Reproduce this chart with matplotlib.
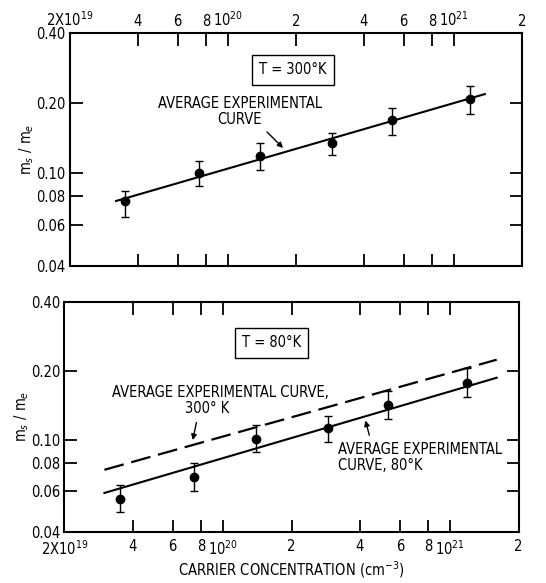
import matplotlib
matplotlib.use("Agg")
import matplotlib.pyplot as plt
import numpy as np

plt.rcParams['font.family'] = ['DejaVu Sans']
plt.rcParams['font.stretch'] = 'condensed'
plt.rcParams['mathtext.fontset'] = 'custom'
plt.rcParams['mathtext.rm'] = 'DejaVu Sans:stretch=condensed'

# carrier concentration of samples (cm^-3)
conc = [3.5e19, 7.45e19, 1.39e20, 2.89e20, 5.32e20, 1.18e21]

# T = 300 K
m300 = [0.076, 0.100, 0.119, 0.135, 0.169, 0.208]
m300_lo = [0.065, 0.088, 0.103, 0.120, 0.146, 0.180]
m300_hi = [0.084, 0.113, 0.135, 0.149, 0.191, 0.237]
fit300_x = [3.2e19, 1.37e21]
fit300_y = [0.076, 0.219]

# T = 80 K
m80 = [0.0556, 0.0694, 0.1015, 0.113, 0.1426, 0.178]
m80_lo = [0.0489, 0.0603, 0.089, 0.0985, 0.124, 0.1545]
m80_hi = [0.064, 0.0798, 0.1168, 0.1277, 0.164, 0.206]
fit80_x = [3.0e19, 1.6e21]
fit80_y = [0.0591, 0.187]
dash300_x = [3.0e19, 1.6e21]
dash300_y = [0.0745, 0.224]

xticks = [2e19, 4e19, 6e19, 8e19, 1e20, 2e20, 4e20, 6e20, 8e20, 1e21, 2e21]
xlabels = ["2X10$^{19}$", "4", "6", "8", "10$^{20}$", "2", "4", "6", "8", "10$^{21}$", "2"]
yticks = [0.04, 0.06, 0.08, 0.10, 0.20, 0.40]
ylabels = ["0.04", "0.06", "0.08", "0.10", "0.20", "0.40"]

fig = plt.figure(figsize=(5.46, 5.83), dpi=100)
ax1 = fig.add_axes([0.128, 0.544, 0.828, 0.399])
ax2 = fig.add_axes([0.118, 0.0875, 0.832, 0.395])


def setup(ax, top_labels):
    ax.set_xscale('log')
    ax.set_yscale('log')
    ax.set_xlim(2e19, 2e21)
    ax.set_ylim(0.04, 0.40)
    ax.set_xticks(xticks)
    ax.set_xticklabels(xlabels)
    ax.set_yticks(yticks)
    ax.set_yticklabels(ylabels)
    ax.minorticks_off()
    ax.tick_params(which='major', direction='in', length=9, width=1.3,
                   top=True, bottom=True, left=True, right=True,
                   labeltop=top_labels, labelbottom=not top_labels,
                   labelsize=10.5, pad=3)
    if not top_labels:
        ax.tick_params(axis='x', pad=5)
    for s in ax.spines.values():
        s.set_linewidth(1.5)
    ax.set_ylabel("m$_{s}$ / m$_{e}$", fontsize=10.5, labelpad=0)


setup(ax1, True)
setup(ax2, False)

# top panel
ax1.plot(fit300_x, fit300_y, color='black', lw=1.5)
ax1.errorbar(conc, m300,
             yerr=[np.array(m300) - np.array(m300_lo), np.array(m300_hi) - np.array(m300)],
             fmt='o', color='black', ms=6, capsize=3, elinewidth=1, capthick=1)
ax1.text(1.94e20, 0.278, "T = 300°K", fontsize=10.5, ha='center', va='center',
         bbox=dict(boxstyle='square,pad=0.5', fc='white', ec='black', lw=1))
ax1.text(1.13e20, 0.199, "AVERAGE EXPERIMENTAL", fontsize=10.5, ha='center', va='center')
ax1.text(1.13e20, 0.171, "CURVE", fontsize=10.5, ha='center', va='center')
ax1.annotate("", xy=(1.79e20, 0.126), xytext=(1.46e20, 0.1535),
             arrowprops=dict(arrowstyle='-|>', color='black', lw=1, mutation_scale=8))

# bottom panel
ax2.plot(fit80_x, fit80_y, color='black', lw=1.5)
ax2.plot(dash300_x, dash300_y, color='black', lw=1.6, dashes=(9, 3.5))
ax2.errorbar(conc, m80,
             yerr=[np.array(m80) - np.array(m80_lo), np.array(m80_hi) - np.array(m80)],
             fmt='o', color='black', ms=6, capsize=3, elinewidth=1, capthick=1)
ax2.text(1.63e20, 0.265, "T = 80°K", fontsize=10.5, ha='center', va='center',
         bbox=dict(boxstyle='square,pad=0.5', fc='white', ec='black', lw=1))
ax2.text(9.7e19, 0.161, "AVERAGE EXPERIMENTAL CURVE,", fontsize=10.5, ha='center', va='center')
ax2.text(8.5e19, 0.137, "300° K", fontsize=10.5, ha='center', va='center')
ax2.annotate("", xy=(7.3e19, 0.0976), xytext=(7.67e19, 0.1228),
             arrowprops=dict(arrowstyle='-|>', color='black', lw=1, mutation_scale=8))
ax2.text(3.2e20, 0.091, "AVERAGE EXPERIMENTAL", fontsize=10.5, ha='left', va='center')
ax2.text(3.2e20, 0.0775, "CURVE, 80°K", fontsize=10.5, ha='left', va='center')
ax2.annotate("", xy=(4.2e20, 0.1253), xytext=(4.43e20, 0.1025),
             arrowprops=dict(arrowstyle='-|>', color='black', lw=1, mutation_scale=8))
ax2.set_xlabel("CARRIER CONCENTRATION (cm$^{-3}$)", fontsize=10.5, labelpad=1)

fig.savefig("out.png", dpi=100)
